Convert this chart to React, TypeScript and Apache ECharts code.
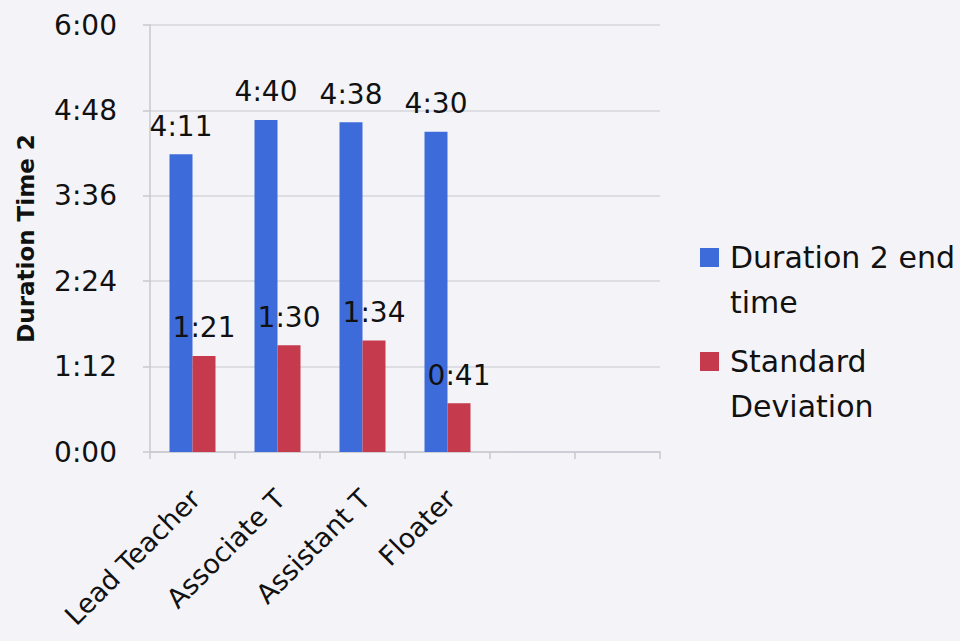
import React, { useEffect, useRef } from "react";
import * as echarts from "echarts";

const categories = ["Lead Teacher", "Associate T", "Assistant T", "Floater", "", ""];
const seriesNames = ["Duration 2 end time", "Standard Deviation"];
const legendLabels = ["\nDuration 2 end\ntime", "\nStandard\nDeviation"];
// values in minutes (h:mm as shown)
const durationEnd = [251, 280, 278, 270];
const stdDeviation = [81, 90, 94, 41];
const yMin = 0;
const yMax = 360;
const yInterval = 72;
const axisTitle = "Duration Time 2";

const fmt = (v: number) => `${Math.floor(v / 60)}:${String(Math.round(v % 60)).padStart(2, "0")}`;

const FONT = "DejaVu Sans";

export default function App() {
  const ref = useRef<HTMLDivElement>(null);
  useEffect(() => {
    if (!ref.current) return;
    const chart = echarts.init(ref.current, undefined, { renderer: "svg" });
    const labelStyle = {
      show: true,
      position: "top" as const,
      distance: 14,
      color: "#111",
      fontFamily: FONT,
      fontSize: 28,
      formatter: (p: any) => fmt(p.value),
    };
    chart.setOption({
      animation: false,
      backgroundColor: "#f4f4f8",
      textStyle: { fontFamily: FONT },
      grid: {
        left: 150,
        right: 300,
        top: 25,
        bottom: 189,
        containLabel: false,
        outerBoundsMode: "none",
      },
      legend: {
        orient: "vertical",
        left: 695,
        top: 185,
        itemWidth: 19,
        itemHeight: 19,
        itemGap: -31,
        icon: "rect",
        formatter: (name: string) => legendLabels[seriesNames.indexOf(name)],
        textStyle: {
          fontFamily: FONT,
          fontSize: 30,
          lineHeight: 45,
          color: "#111",
          padding: [0, 0, 0, 6],
        },
        data: seriesNames,
      },
      xAxis: {
        type: "category",
        data: categories,
        axisLine: { lineStyle: { color: "#c8c8d0", width: 1.5 } },
        axisTick: { show: true, length: 7, lineStyle: { color: "#c8c8d0", width: 1.5 } },
        axisLabel: {
          rotate: 45,
          interval: 0,
          margin: 45,
          padding: [0, -4, 0, 0],
          fontFamily: FONT,
          fontSize: 27,
          color: "#111",
        },
      },
      yAxis: {
        type: "value",
        min: yMin,
        max: yMax,
        interval: yInterval,
        name: axisTitle,
        nameLocation: "middle",
        nameGap: 113,
        nameTextStyle: { fontFamily: FONT, fontSize: 23, fontWeight: "bold", color: "#111" },
        axisLine: { show: true, lineStyle: { color: "#c8c8d0", width: 1.5 } },
        axisTick: { show: true, length: 7, lineStyle: { color: "#c8c8d0", width: 1.5 } },
        splitLine: { lineStyle: { color: "#d6d6de", width: 1.5 } },
        axisLabel: {
          margin: 33,
          fontFamily: FONT,
          fontSize: 28,
          color: "#111",
          formatter: (v: number) => fmt(v),
        },
      },
      series: [
        {
          name: seriesNames[0],
          type: "bar",
          data: durationEnd,
          barWidth: 23,
          barGap: "0%",
          itemStyle: { color: "#3d6bd9" },
          label: labelStyle,
        },
        {
          name: seriesNames[1],
          type: "bar",
          data: stdDeviation,
          barWidth: 23,
          itemStyle: { color: "#c63a4d" },
          label: labelStyle,
        },
      ],
    });
    return () => chart.dispose();
  }, []);
  return (
    <div
      ref={ref}
      style={{ position: "absolute", left: 0, top: 0, width: 960, height: 641 }}
    />
  );
}
